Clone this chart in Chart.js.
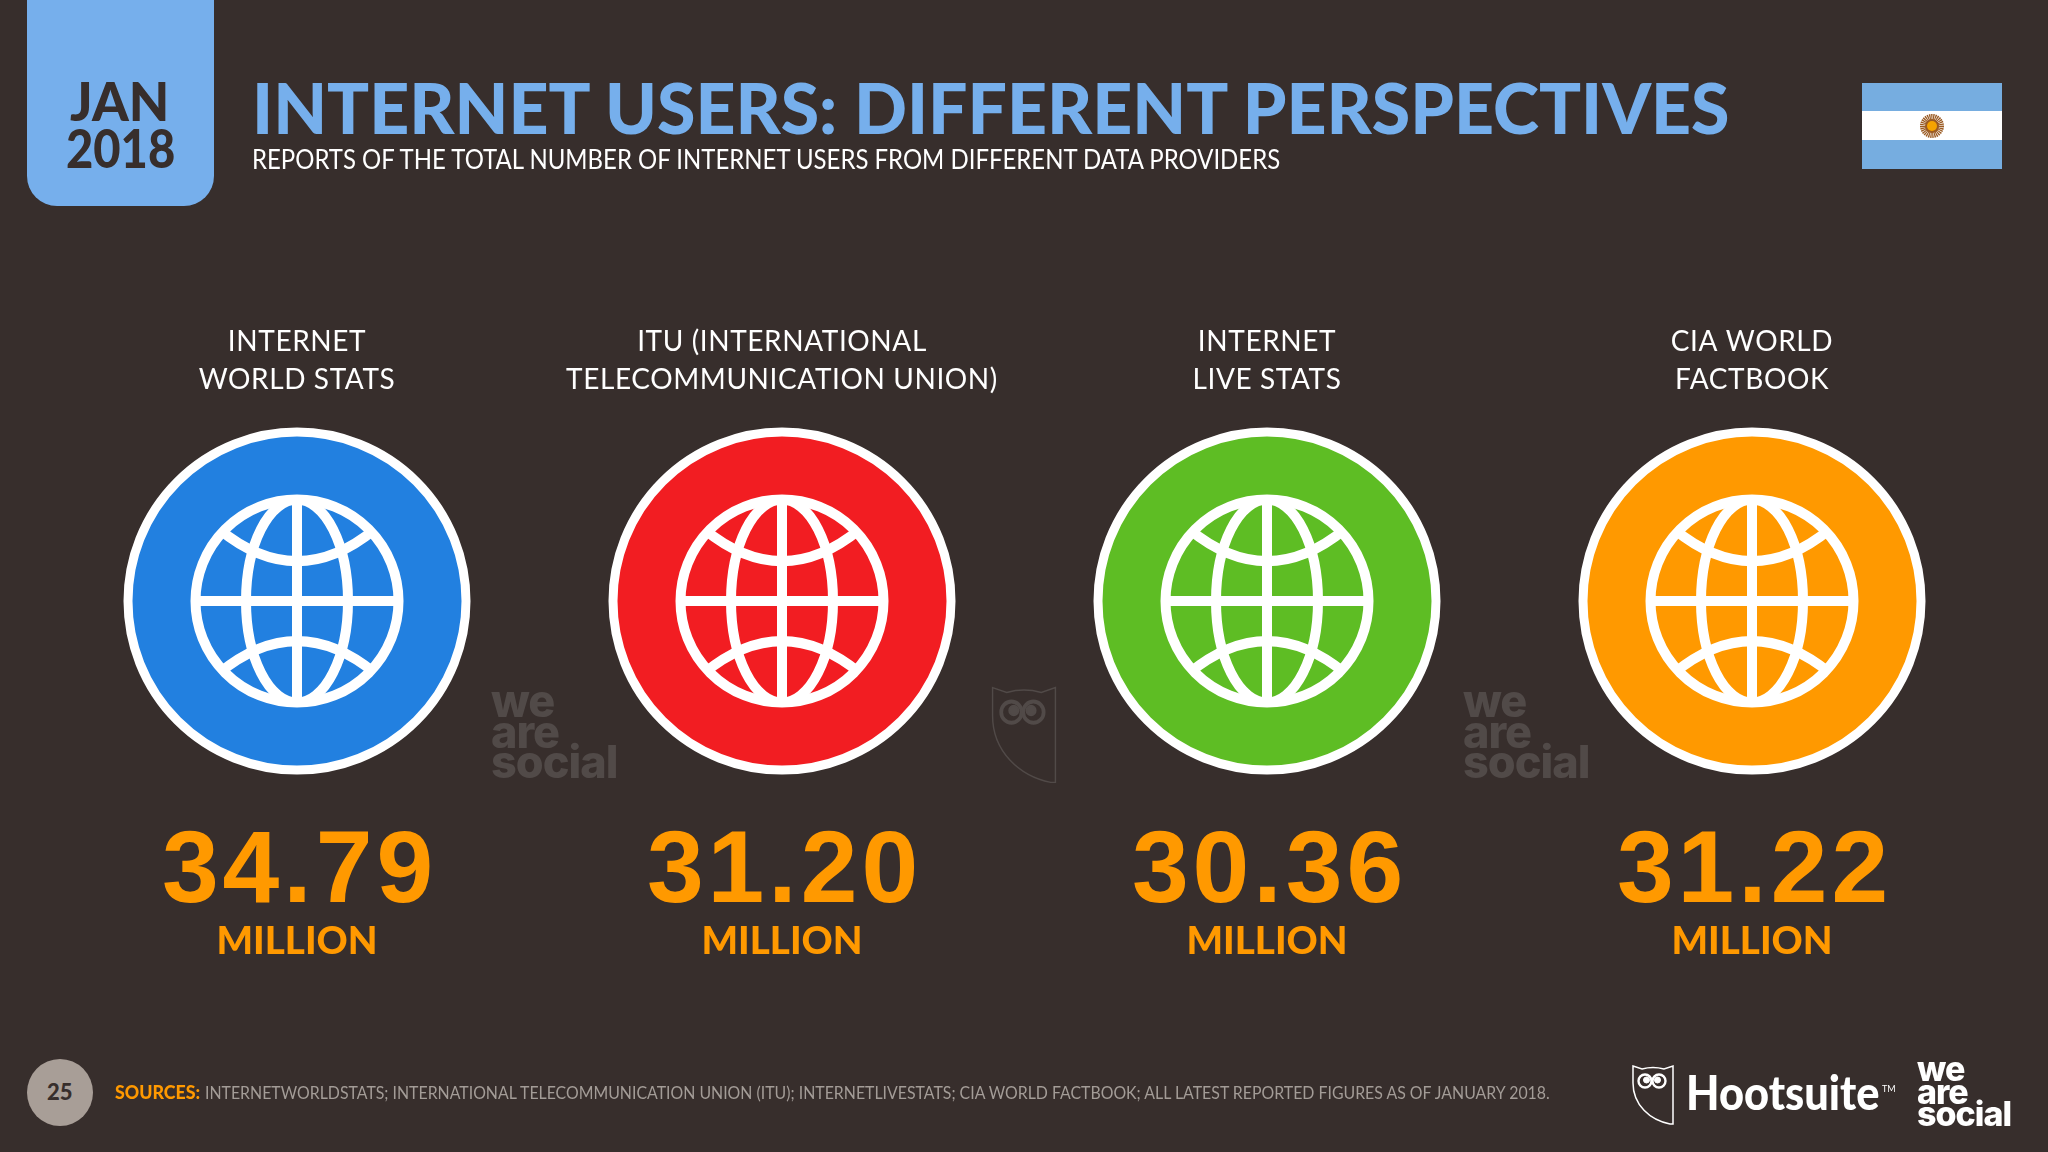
<!doctype html>
<html lang="en">
<head>
<meta charset="utf-8">
<title>Internet users: different perspectives</title>
<script src="https://cdn.jsdelivr.net/npm/chart.js@4.4.1/dist/chart.umd.min.js"></script>
<style>
  html, body { margin: 0; padding: 0; background: #372E2C; }
  #page { position: relative; width: 2048px; height: 1152px; overflow: hidden; background: #372E2C; font-family: Lato, sans-serif; }
  #page canvas { position: absolute; left: 0; top: 0; }
  .txt { position: absolute; white-space: nowrap; line-height: 1; transform-origin: left center; }
  #tab { position: absolute; left: 27px; top: 0; width: 187px; height: 206px; background: #76AFEC; border-radius: 0 0 30px 30px; }
  #num { position: absolute; left: 27px; top: 1059px; width: 66px; height: 67px; border-radius: 50%; background: #A89E97; }
  .stripe { position: absolute; left: 1862px; width: 140px; }
  .ws { position: absolute; font-family: Inter, sans-serif; font-weight: 800; letter-spacing: -1px; white-space: pre; }
  svg { position: absolute; overflow: visible; }
</style>
</head>
<body>
<div id="page">
  <canvas id="chart" width="2048" height="1152"></canvas>

  <div id="tab"></div>
  <div class="txt" data-w="99" style="left:70px;top:74px;font-size:54px;font-weight:900;color:#372E2C">JAN</div>
  <div class="txt" data-w="109" style="left:66px;top:121px;font-size:54px;font-weight:900;color:#372E2C">2018</div>
  <div class="txt" data-w="1478" style="left:252px;top:71px;font-size:71px;font-weight:900;color:#76AFEC">INTERNET USERS: DIFFERENT PERSPECTIVES</div>
  <div class="txt" data-w="1028" style="left:252px;top:146px;font-size:26px;color:#FFFFFF">REPORTS OF THE TOTAL NUMBER OF INTERNET USERS FROM DIFFERENT DATA PROVIDERS</div>

  <div class="stripe" style="top:83px;height:28px;background:#76ADE0"></div>
  <div class="stripe" style="top:111px;height:29px;background:#FFFFFF"></div>
  <div class="stripe" style="top:140px;height:29px;background:#76ADE0"></div>
  <svg style="left:1932px;top:125.5px" width="1" height="1">
    <circle r="9" fill="none" stroke="#9A5A22" stroke-width="6" stroke-dasharray="1.2 0.6"></circle>
    <circle r="7" fill="#9A5A22"></circle><circle r="5" fill="#F5A300"></circle>
  </svg>

  <div class="ws" style="left:491px;top:686px;font-size:45px;line-height:30.5px;color:#514A48">we
are
social</div>
  <div class="ws" style="left:1463px;top:686px;font-size:45px;line-height:30.5px;color:#514A48">we
are
social</div>
  <svg style="left:991px;top:686px" width="66" height="98" viewBox="0 0 42 60" preserveAspectRatio="none" fill="none" stroke="#514A48">
    <path stroke-width="0.9" d="M1 1 L10 4 Q21 1 32 4 L41 1 V59 H38 C18 55 1 40 1 18 Z"></path>
    <circle cx="13" cy="16" r="6.5" stroke-width="2.4"></circle><circle cx="27" cy="16" r="6.5" stroke-width="2.4"></circle>
    <circle cx="14.5" cy="15" r="3" fill="#514A48"></circle><circle cx="25.5" cy="15" r="3" fill="#514A48"></circle>
  </svg>

  <div id="num"></div>
  <div class="txt" style="left:47px;top:1081px;font-size:22px;font-weight:900;color:#372E2C">25</div>
  <div class="txt" data-w="85" style="left:115px;top:1083px;font-size:18px;font-weight:900;color:#FF9900">SOURCES:</div>
  <div class="txt" data-w="1345" style="left:205px;top:1083px;font-size:18px;color:#A39C97">INTERNETWORLDSTATS; INTERNATIONAL TELECOMMUNICATION UNION (ITU); INTERNETLIVESTATS; CIA WORLD FACTBOOK; ALL LATEST REPORTED FIGURES AS OF JANUARY 2018.</div>

  <svg style="left:1632px;top:1065px" width="42" height="60" viewBox="0 0 42 60" fill="none" stroke="#FFFFFF">
    <path stroke-width="1.5" d="M1 1 L10 4 Q21 1 32 4 L41 1 V59 H38 C18 55 1 40 1 18 Z"></path>
    <circle cx="13" cy="16" r="6.5" stroke-width="2.4"></circle><circle cx="27" cy="16" r="6.5" stroke-width="2.4"></circle>
    <circle cx="14.5" cy="15" r="3" fill="#FFFFFF"></circle><circle cx="25.5" cy="15" r="3" fill="#FFFFFF"></circle>
  </svg>
  <div class="txt" data-w="194" style="left:1686px;top:1069px;font-size:47px;font-weight:900;color:#FFFFFF">Hootsuite</div>
  <div class="txt" style="left:1882px;top:1084px;font-size:9px;color:#FFFFFF">TM</div>
  <div class="ws" style="left:1917px;top:1058px;font-size:34px;line-height:22.7px;color:#FFFFFF">we
are
social</div>
</div>

<script type="text/javascript">
  const categories = [
    ["INTERNET", "WORLD STATS"],
    ["ITU (INTERNATIONAL", "TELECOMMUNICATION UNION)"],
    ["INTERNET", "LIVE STATS"],
    ["CIA WORLD", "FACTBOOK"]
  ];
  const values = [34.79, 31.20, 30.36, 31.22];
  const unit = "MILLION";
  const circleColors = ["#2280E0", "#F21D22", "#5EBD24", "#FF9900"];

  // globe icon drawn on top of each point
  const drawGlobe = (ctx, x, y) => {
    const r = 101.5;
    ctx.save();
    ctx.translate(x, y);
    ctx.strokeStyle = "#FFFFFF";
    ctx.lineWidth = 10;
    ctx.beginPath();
    ctx.arc(0, 0, r, 0, Math.PI * 2);
    ctx.stroke();
    ctx.clip();
    ctx.beginPath();
    ctx.moveTo(-r, 0); ctx.lineTo(r, 0);
    ctx.moveTo(0, -r); ctx.lineTo(0, r);
    ctx.stroke();
    ctx.beginPath();
    ctx.ellipse(0, 0, 51, r, 0, 0, Math.PI * 2);
    ctx.stroke();
    [-1, 1].forEach((s) => {
      ctx.beginPath();
      ctx.moveTo(-78, s * 72);
      ctx.quadraticCurveTo(0, s * 8, 78, s * 72);
      ctx.stroke();
    });
    ctx.restore();
  };

  const pointDecor = {
    id: "pointDecor",
    beforeDraw(chart) {
      chart.ctx.letterSpacing = "0.6px";
    },
    afterDatasetsDraw(chart) {
      const ctx = chart.ctx;
      chart.getDatasetMeta(0).data.forEach((pt, i) => {
        drawGlobe(ctx, pt.x, pt.y);
        ctx.save();
        ctx.textAlign = "center";
        ctx.textBaseline = "alphabetic";
        ctx.fillStyle = "#FF9900";
        ctx.font = "bold 102px 'Liberation Sans'";
        ctx.letterSpacing = "4px";
        ctx.fillText(values[i].toFixed(2), pt.x + 2.5, pt.y + 301);
        ctx.font = "900 38.5px Lato";
        ctx.letterSpacing = "0px";
        ctx.fillText(unit, pt.x, pt.y + 353);
        ctx.restore();
      });
    }
  };

  const init = () => {
    new Chart(document.getElementById("chart"), {
      type: "scatter",
      data: {
        labels: categories,
        datasets: [{
          data: categories.map((c) => ({ x: c, y: 0 })),
          pointRadius: 169,
          pointBorderWidth: 9,
          pointBorderColor: "#FFFFFF",
          pointBackgroundColor: circleColors,
          clip: false
        }]
      },
      options: {
        responsive: false,
        animation: false,
        events: [],
        layout: { autoPadding: false, padding: { left: 54.5, right: 53.5, top: 321.4, bottom: 351.2 } },
        plugins: { legend: { display: false }, tooltip: { enabled: false } },
        scales: {
          x: {
            type: "category",
            position: "top",
            offset: true,
            border: { display: false },
            grid: { display: false, drawTicks: false },
            ticks: {
              autoSkip: false,
              maxRotation: 0,
              color: "#FFFFFF",
              padding: 1.9,
              font: { family: "Lato", size: 28, lineHeight: 1.36 }
            }
          },
          y: { display: false, min: -1, max: 1 }
        }
      },
      plugins: [pointDecor]
    });

    // text is stretched to the measured width of the original
    document.querySelectorAll(".txt[data-w]").forEach((el) => {
      el.style.transform = "scaleX(" + Number(el.dataset.w) / el.offsetWidth + ")";
    });
  };

  window.onload = init;
</script>
</body>
</html>
